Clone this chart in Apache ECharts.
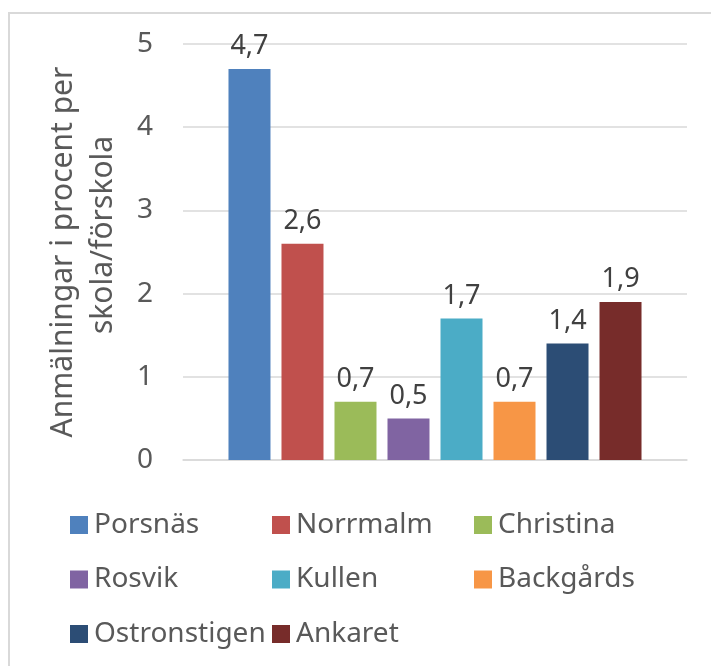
<!DOCTYPE html>
<html>
<head>
<meta charset="utf-8">
<title>Anmälningar</title>
<style>
  html, body { margin: 0; padding: 0; background: #fff; }
  #frame { position: absolute; left: 8px; top: 12px; width: 760px; height: 720px;
           border-left: 2px solid #d9d9d9; border-top: 2px solid #d9d9d9; box-sizing: border-box; }
  #main { position: absolute; left: 0; top: 0; width: 711px; height: 666px; }
</style>
<script src="https://cdn.jsdelivr.net/npm/echarts@6/dist/echarts.min.js"></script>
</head>
<body>
<div id="frame"></div>
<div id="main"></div>
<script>
// data
var schools = ['Porsnäs', 'Norrmalm', 'Christina', 'Rosvik', 'Kullen', 'Backgårds', 'Ostronstigen', 'Ankaret'];
var values = [4.7, 2.6, 0.7, 0.5, 1.7, 0.7, 1.4, 1.9];
var colors = ['#4f81bd', '#c0504d', '#9bbb59', '#8064a2', '#4bacc6', '#f79646', '#2c4d75', '#772c2a'];

var font = 'Noto Sans';
var grey = '#595959';

var series = schools.map(function (name, i) {
    return {
        name: name,
        type: 'bar',
        barWidth: 42,
        barGap: '26.2%',
        itemStyle: { color: colors[i] },
        label: {
            show: true,
            position: 'top',
            distance: 9,
            fontFamily: font,
            fontSize: 27,
            color: '#404040',
            formatter: function (p) { return String(p.value).replace('.', ','); }
        },
        data: [values[i]]
    };
});

// legend columns (3 per row, Excel style)
function legendCol(left, names) {
    return {
        orient: 'vertical',
        left: left,
        top: 511,
        padding: 0,
        icon: 'rect',
        itemWidth: 18,
        itemHeight: 18,
        itemGap: 26.5,
        selectedMode: false,
        textStyle: { fontFamily: font, fontSize: 28, lineHeight: 28, color: grey, padding: [0, 0, 0, 1] },
        data: names
    };
}

var chart = echarts.init(document.getElementById('main'));
chart.setOption({
    animation: false,
    grid: { left: 183, right: 24, top: 44, bottom: 206 },
    legend: [
        legendCol(70, ['Porsnäs', 'Rosvik', 'Ostronstigen']),
        legendCol(272, ['Norrmalm', 'Kullen', 'Ankaret']),
        legendCol(474, ['Christina', 'Backgårds'])
    ],
    xAxis: {
        type: 'category',
        data: [''],
        axisTick: { show: false },
        axisLabel: { show: false },
        axisLine: { lineStyle: { color: '#d9d9d9', width: 1.5 } }
    },
    yAxis: {
        type: 'value',
        min: 0,
        max: 5,
        interval: 1,
        name: '{a|Anmälningar i procent per}\n{b|skola/förskola}',
        nameLocation: 'middle',
        nameGap: 60,
        nameTextStyle: {
            fontFamily: font,
            fontSize: 30,
            lineHeight: 40,
            color: grey,
            rich: {
                a: { fontFamily: font, fontSize: 30, lineHeight: 40, color: grey },
                b: { fontFamily: font, fontSize: 30, lineHeight: 40, color: grey, padding: [0, 0, 0, 34] }
            }
        },
        axisLine: { show: false },
        axisTick: { show: false },
        axisLabel: { fontFamily: font, fontSize: 28, color: grey, margin: 30 },
        splitLine: { lineStyle: { color: '#d9d9d9', width: 1.5 } }
    },
    series: series
});
</script>
</body>
</html>
